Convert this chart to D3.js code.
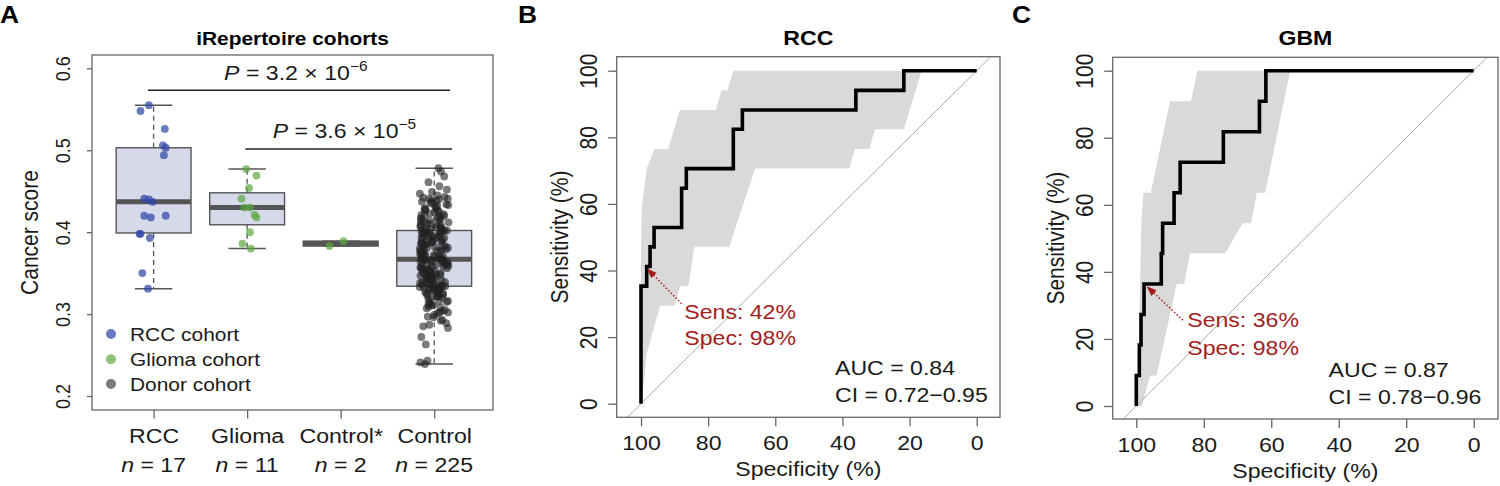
<!DOCTYPE html>
<html><head><meta charset="utf-8">
<script src="https://cdn.jsdelivr.net/npm/d3@7"></script>
<style>
body{margin:0;background:#fff}
svg{display:block}
text{font-family:"Liberation Sans",Arial,Helvetica,sans-serif}
</style>
</head><body>
<svg id="chart" width="1500" height="486"></svg>
<script>
// ================= DATA =================
const categories = ["RCC", "Glioma", "Control*", "Control"];
const groupN = [17, 11, 2, 225];
const legendLabels = ["RCC cohort", "Glioma cohort", "Donor cohort"];
const yTicksA = [0.2, 0.3, 0.4, 0.5, 0.6];

// box statistics (lower whisker, Q1, median, Q3, upper whisker)
const boxLow  = [0.331, 0.380, 0.383, 0.239];
const boxQ1   = [0.399, 0.409, 0.383, 0.334];
const boxMed  = [0.437, 0.430, 0.386, 0.367];
const boxQ3   = [0.503, 0.448, 0.389, 0.402];
const boxHigh = [0.555, 0.477, 0.389, 0.478];

const rccScores = [0.555, 0.548, 0.526, 0.506, 0.503, 0.494, 0.441, 0.440, 0.437,
  0.420, 0.418, 0.420, 0.398, 0.398, 0.393, 0.350, 0.331];
const gliomaScores = [0.477, 0.469, 0.454, 0.441, 0.430, 0.430, 0.421, 0.418, 0.400, 0.386, 0.380];
const controlStarScores = [0.383, 0.389];
const controlScores = [
  0.239, 0.241, 0.243, 0.263, 0.272, 0.283, 0.285, 0.287, 0.289, 0.292, 0.293, 0.296, 0.297, 0.299,
  0.301, 0.302, 0.302, 0.304, 0.305, 0.307, 0.308, 0.309, 0.311, 0.311,
  0.312, 0.314, 0.315, 0.316, 0.316, 0.318, 0.319, 0.320, 0.321, 0.322,
  0.322, 0.323, 0.324, 0.325, 0.325, 0.326, 0.327, 0.328, 0.328, 0.329,
  0.330, 0.330, 0.331, 0.331, 0.332, 0.332, 0.333, 0.333, 0.334, 0.334,
  0.334, 0.335,
  0.335, 0.336, 0.336, 0.337, 0.337, 0.338, 0.339, 0.339, 0.340, 0.341,
  0.341, 0.342, 0.342, 0.343, 0.344, 0.344, 0.345, 0.345, 0.346, 0.347,
  0.347, 0.348, 0.348, 0.349, 0.350, 0.350, 0.351, 0.352, 0.352, 0.353,
  0.354, 0.354, 0.355, 0.355, 0.356, 0.357, 0.357, 0.358, 0.358, 0.359,
  0.360, 0.360, 0.361, 0.361, 0.362, 0.363, 0.363, 0.364, 0.364, 0.365,
  0.365, 0.366, 0.366, 0.367, 0.367, 0.367,
  0.368, 0.368, 0.369, 0.370, 0.370, 0.371, 0.371, 0.372, 0.373, 0.373,
  0.374, 0.375, 0.375, 0.376, 0.377, 0.377, 0.378, 0.379, 0.379, 0.380,
  0.381, 0.381, 0.382, 0.383, 0.383, 0.384, 0.385, 0.385, 0.386, 0.387,
  0.387, 0.388, 0.389, 0.389, 0.390, 0.391, 0.391, 0.392, 0.393, 0.393,
  0.394, 0.395, 0.395, 0.396, 0.397, 0.397, 0.398, 0.399, 0.399, 0.400,
  0.400, 0.401, 0.401, 0.402, 0.402, 0.402,
  0.403, 0.404, 0.404, 0.405, 0.406, 0.406, 0.407, 0.408, 0.409, 0.409,
  0.410, 0.411, 0.412, 0.412, 0.413, 0.414, 0.415, 0.416, 0.416, 0.417,
  0.418, 0.419, 0.420, 0.421, 0.421, 0.422, 0.423, 0.424, 0.425, 0.426,
  0.427, 0.428, 0.429, 0.430, 0.431, 0.432, 0.433, 0.434, 0.435, 0.436,
  0.437, 0.438, 0.439, 0.440, 0.441, 0.441, 0.442, 0.443, 0.445, 0.447,
  0.449, 0.452, 0.456, 0.461, 0.468, 0.474, 0.478
];
const pMantissa = ["3.2", "3.6"];
const pExponent = ["\u22126", "\u22125"];

const rocTicks = [0, 20, 40, 60, 80, 100];

// RCC ROC curve (specificity %, sensitivity %)
const rccRocSpec = [100, 100, 98.3, 98.3, 97.3, 97.3, 96.1, 96.1, 87.9, 87.9, 86.5, 86.5,
  72.5, 72.5, 69.8, 69.8, 36, 36, 21.7, 21.7, 0];
const rccRocSens = [0, 35.3, 35.3, 41.2, 41.2, 47.1, 47.1, 52.9, 52.9, 64.7, 64.7, 70.6,
  70.6, 82.4, 82.4, 88.2, 88.2, 94.1, 94.1, 100, 100];
// RCC CI band of specificity
const rccBandHiSpec = [72.5, 74.2, 76.0, 77.7, 88.4, 91.9, 96.0, 98.3, 99.8, 100, 100];
const rccBandHiSens = [100, 94.1, 94.1, 88.2, 88.2, 76.5, 76.5, 70.6, 58.8, 47.1, 0];
const rccBandLoSpec = [16.4, 21.7, 30.3, 32.0, 36.3, 38.0, 66.0, 73.7, 84.1, 85.9, 88.4, 89.9, 94.3, 98.3, 99.8];
const rccBandLoSens = [100, 82.4, 82.4, 76.5, 76.5, 70.6, 70.6, 47.1, 47.1, 35.3, 35.3, 29.4, 29.4, 15.1, 0];

// GBM ROC curve
const gbmRocSpec = [100, 100, 99.1, 99.1, 98.6, 98.6, 97.7, 97.7, 92.6, 92.6, 92.2, 92.2,
  88.8, 88.8, 87.0, 87.0, 74.2, 74.2, 63.5, 63.5, 61.6, 61.6, 0];
const gbmRocSens = [0, 9.1, 9.1, 18.2, 18.2, 27.3, 27.3, 36.4, 36.4, 45.5, 45.5, 54.5,
  54.5, 63.6, 63.6, 72.7, 72.7, 81.8, 81.8, 90.9, 90.9, 100, 100];
const gbmBandHiSpec = [81.9, 83.8, 90.0, 95.7, 97.9, 98.5, 98.9, 99.4, 100];
const gbmBandHiSens = [100, 90.9, 90.9, 63.6, 63.6, 54.5, 36.4, 9.1, 0];
const gbmBandLoSpec = [54.4, 61.8, 64.3, 66.0, 68.5, 73.7, 84.1, 85.8, 88.0, 94.0, 95.9, 98.4];
const gbmBandLoSens = [100, 63.6, 63.6, 54.5, 54.5, 45.5, 45.5, 36.4, 36.4, 9.1, 9.1, 0];

const rccTexts = ["Sens: 42%", "Spec: 98%", "AUC = 0.84", "CI = 0.72\u22120.95"];
const gbmTexts = ["Sens: 36%", "Spec: 98%", "AUC = 0.87", "CI = 0.78\u22120.96"];

// ================= LAYOUT / STYLE =================
const SX = 1.1;               // horizontal text stretch of the original raster
const INK = "#1a1a1a";
const FRAME = "#666";
const RED = "#a31d1d";
const groupColor = ["#2f47a8", "#5aa640", "#5aa640", "#222"];
const groupAlpha = [0.72, 0.7, 0.7, 0.6];
const rccJitter = [-0.05, -0.14, 0.12, 0.10, 0.13, 0.11, -0.10, -0.05, -0.01, -0.10, -0.03, 0.13, -0.15, -0.14, -0.04, -0.12, -0.06];
const gliomaJitter = [-0.01, 0.10, 0.02, -0.06, -0.03, 0.03, 0.08, 0.10, 0.03, -0.05, 0.04];
const controlStarJitter = [-0.12, 0.03];
// deterministic hash-based horizontal jitter (layout only)
function hashJitter(i, width) {
  const h = Math.sin((i + 1) * 78.233) * 43758.5453;
  return (h - Math.floor(h) - 0.5) * width;
}

const svg = d3.select("#chart");
const defs = svg.append("defs");

function label(g, x, y, s, o = {}) {
  const t = g.append("text")
    .attr("transform", `translate(${x},${y}) scale(${SX},1)` + (o.rot ? " rotate(-90)" : ""))
    .attr("text-anchor", o.anchor || "start")
    .attr("font-size", o.size || 21)
    .attr("font-weight", o.bold ? "bold" : null)
    .attr("font-style", o.italic ? "italic" : null)
    .attr("fill", o.fill || INK);
  if (s != null) t.text(s);
  return t;
}

// ================= PANEL A =================
(function () {
  const g = svg.append("g");
  const box = {l: 92, r: 493, t: 55, b: 410};
  const x = d3.scaleLinear().domain([1, 4]).range([153.6, 434.2]);
  const y = d3.scaleLinear().domain([0.2, 0.6]).range([396, 68.3]);
  const unit = x(2) - x(1);

  label(g, 0, 23, "A", {size: 24, bold: true, fill: "#000"});
  label(g, (box.l + box.r) / 2, 45, "iRepertoire cohorts", {size: 19, bold: true, anchor: "middle", fill: "#000"});

  g.append("rect").attr("x", box.l).attr("y", box.t).attr("width", box.r - box.l).attr("height", box.b - box.t)
    .attr("fill", "none").attr("stroke", FRAME).attr("stroke-width", 1.3);

  // y axis
  const ay = g.append("g").attr("transform", `translate(${box.l},0)`)
    .call(d3.axisLeft(y).tickValues(yTicksA).tickFormat(d3.format(".1f")).tickSize(5));
  ay.select(".domain").remove();
  ay.selectAll(".tick line").attr("stroke", FRAME).attr("stroke-width", 1.3);
  ay.selectAll(".tick text").attr("x", null).attr("dy", null).attr("text-anchor", "middle")
    .attr("font-size", 18).attr("fill", INK)
    .attr("transform", `translate(-22,0) scale(${SX},1) rotate(-90)`);
  label(g, 38, (box.t + box.b) / 2, "Cancer score", {rot: true, anchor: "middle", size: 21});

  // x axis
  const ax = g.append("g").attr("transform", `translate(0,${box.b})`)
    .call(d3.axisBottom(x).tickValues([1, 2, 3, 4]).tickFormat(i => categories[i - 1]).tickSize(8.5));
  ax.select(".domain").remove();
  ax.selectAll(".tick line").attr("stroke", FRAME).attr("stroke-width", 1.3);
  ax.selectAll(".tick text").attr("y", null).attr("dy", null).attr("font-size", 21).attr("fill", INK)
    .attr("transform", `translate(0,33) scale(${SX},1)`);
  groupN.forEach((n, i) => {
    const t = label(g, x(i + 1), box.b + 62, null, {anchor: "middle", size: 21});
    t.append("tspan").attr("font-style", "italic").text("n");
    t.append("tspan").text(" = " + n);
  });

  // boxes
  categories.forEach((c, i) => {
    const cx = x(i + 1), hw = 0.4 * unit, cw = 0.2 * unit;
    const bg = g.append("g");
    bg.append("line").attr("x1", cx).attr("x2", cx).attr("y1", y(boxQ3[i])).attr("y2", y(boxHigh[i]))
      .attr("stroke", "#555").attr("stroke-width", 1.3).attr("stroke-dasharray", "5,4");
    bg.append("line").attr("x1", cx).attr("x2", cx).attr("y1", y(boxQ1[i])).attr("y2", y(boxLow[i]))
      .attr("stroke", "#555").attr("stroke-width", 1.3).attr("stroke-dasharray", "5,4");
    [boxHigh[i], boxLow[i]].forEach(v => bg.append("line").attr("x1", cx - cw).attr("x2", cx + cw)
      .attr("y1", y(v)).attr("y2", y(v)).attr("stroke", "#555").attr("stroke-width", 1.5));
    bg.append("rect").attr("x", cx - hw).attr("width", 2 * hw)
      .attr("y", y(boxQ3[i])).attr("height", y(boxQ1[i]) - y(boxQ3[i]))
      .attr("fill", "#d6d9ea").attr("stroke", "#555").attr("stroke-width", 1.4);
    bg.append("line").attr("x1", cx - hw).attr("x2", cx + hw).attr("y1", y(boxMed[i])).attr("y2", y(boxMed[i]))
      .attr("stroke", "#555").attr("stroke-width", 5);
  });

  // points
  const controlJitter = controlScores.map((d, i) => hashJitter(i, 0.31));
  const groups = [[rccScores, rccJitter], [gliomaScores, gliomaJitter], [controlStarScores, controlStarJitter], [controlScores, controlJitter]];
  groups.forEach(([vals, jit], i) => {
    g.append("g").selectAll("circle").data(vals).join("circle")
      .attr("cx", (d, k) => x(i + 1 + jit[k])).attr("cy", d => y(d)).attr("r", 3.9)
      .attr("fill", groupColor[i]).attr("fill-opacity", groupAlpha[i]);
  });

  // p-value brackets
  const brackets = [{x1: 0.94, x2: 4.17, ly: 0.5732, tx: 2.52, ty: 0.5857},
                    {x1: 1.98, x2: 4.19, ly: 0.5016, tx: 3.04, ty: 0.5146}];
  brackets.forEach((b, i) => {
    g.append("line").attr("x1", x(b.x1)).attr("x2", x(b.x2)).attr("y1", y(b.ly)).attr("y2", y(b.ly))
      .attr("stroke", "#222").attr("stroke-width", 1.5);
    const t = label(g, x(b.tx), y(b.ty), null, {anchor: "middle", size: 21});
    t.append("tspan").attr("font-style", "italic").text("P");
    t.append("tspan").text(" = " + pMantissa[i] + " \u00d7 10");
    t.append("tspan").attr("font-size", 14).attr("dy", -9).text(pExponent[i]);
  });

  // legend
  const legY = [334, 359.3, 384];
  const legIdx = [0, 1, 3];
  legendLabels.forEach((s, k) => {
    g.append("circle").attr("cx", 111).attr("cy", legY[k]).attr("r", 5)
      .attr("fill", groupColor[legIdx[k]]).attr("fill-opacity", groupAlpha[legIdx[k]]);
    label(g, 130, legY[k] + 7, s, {size: 19});
  });
})();

// ================= ROC PANELS =================
function rocPanel(c) {
  const g = svg.append("g");
  const box = c.box;
  const x = d3.scaleLinear().domain([100, 0]).range(c.xr);
  const y = d3.scaleLinear().domain([0, 100]).range(c.yr);
  const cid = "clip" + c.letter;
  defs.append("clipPath").attr("id", cid).append("rect")
    .attr("x", box.l).attr("y", box.t).attr("width", box.r - box.l).attr("height", box.b - box.t);

  label(g, c.letterX, 23, c.letter, {size: 24, bold: true, fill: "#000"});
  label(g, (box.l + box.r) / 2, 45, c.title, {size: 21, bold: true, anchor: "middle", fill: "#000"});

  const pg = g.append("g").attr("clip-path", `url(#${cid})`);
  // CI band
  const hi = c.hiSpec.map((s, i) => [s, c.hiSens[i]]);
  const lo = c.loSpec.map((s, i) => [s, c.loSens[i]]);
  const poly = hi.concat(lo.slice().reverse());
  pg.append("path").attr("d", d3.line().x(d => x(d[0])).y(d => y(d[1]))(poly) + "Z")
    .attr("fill", "#d9d9d9").attr("stroke", "none");
  // diagonal
  pg.append("line").attr("x1", x(110)).attr("y1", y(-10)).attr("x2", x(-10)).attr("y2", y(110))
    .attr("stroke", "#aaa").attr("stroke-width", 1);
  // ROC curve
  const pts = c.rocSpec.map((s, i) => [s, c.rocSens[i]]);
  pg.append("path").attr("d", d3.line().x(d => x(d[0])).y(d => y(d[1]))(pts))
    .attr("fill", "none").attr("stroke", "#000").attr("stroke-width", 3.6)
    .attr("stroke-linejoin", "miter").attr("stroke-linecap", "butt");

  // frame
  g.append("rect").attr("x", box.l).attr("y", box.t).attr("width", box.r - box.l).attr("height", box.b - box.t)
    .attr("fill", "none").attr("stroke", FRAME).attr("stroke-width", 1.3);

  // axes
  const ay = g.append("g").attr("transform", `translate(${box.l},0)`)
    .call(d3.axisLeft(y).tickValues(rocTicks).tickFormat(d3.format("d")).tickSize(8.5));
  ay.select(".domain").remove();
  ay.selectAll(".tick line").attr("stroke", FRAME).attr("stroke-width", 1.3);
  ay.selectAll(".tick text").attr("x", null).attr("dy", null).attr("text-anchor", "middle")
    .attr("font-size", 21).attr("fill", INK)
    .attr("transform", `translate(-20,0) scale(${SX},1) rotate(-90)`);
  label(g, box.l - 49, (box.t + box.b) / 2, "Sensitivity (%)", {rot: true, anchor: "middle", size: 21});

  const ax = g.append("g").attr("transform", `translate(0,${box.b})`)
    .call(d3.axisBottom(x).tickValues(rocTicks).tickFormat(d3.format("d")).tickSize(9));
  ax.select(".domain").remove();
  ax.selectAll(".tick line").attr("stroke", FRAME).attr("stroke-width", 1.3);
  ax.selectAll(".tick text").attr("y", null).attr("dy", null).attr("font-size", 21).attr("fill", INK)
    .attr("transform", `translate(0,33) scale(${SX},1)`);
  label(g, (box.l + box.r) / 2, box.b + 59, "Specificity (%)", {anchor: "middle", size: 21});

  // annotation arrow
  const a = c.annot;
  g.append("line").attr("x1", x(a.tail[0])).attr("y1", y(a.tail[1]))
    .attr("x2", x(a.tip[0])).attr("y2", y(a.tip[1]))
    .attr("stroke", RED).attr("stroke-width", 1.5).attr("stroke-dasharray", "1.5,2")
    .attr("marker-end", "url(#arrowRed)");
  label(g, x(a.text[0]), y(a.text[1]), c.texts[0], {size: 21, fill: RED});
  label(g, x(a.text[0]), y(a.text[1]) + a.lh, c.texts[1], {size: 21, fill: RED});

  label(g, x(c.aucX), y(8.5), c.texts[2], {size: 21});
  label(g, x(c.aucX), y(0.5), c.texts[3], {size: 21});
}

defs.append("marker").attr("id", "arrowRed").attr("viewBox", "0 0 10 10")
  .attr("refX", 9).attr("refY", 5).attr("markerWidth", 10).attr("markerHeight", 10)
  .attr("markerUnits", "userSpaceOnUse").attr("orient", "auto")
  .append("path").attr("d", "M0,1.2 L10,5 L0,8.8 Z").attr("fill", RED);

rocPanel({
  letter: "B", letterX: 518, title: "RCC",
  box: {l: 616.7, r: 1000, t: 56.7, b: 417.3},
  xr: [641, 976.7], yr: [403.7, 70.7],
  rocSpec: rccRocSpec, rocSens: rccRocSens,
  hiSpec: rccBandHiSpec, hiSens: rccBandHiSens, loSpec: rccBandLoSpec, loSens: rccBandLoSens,
  annot: {tip: [98.0, 40.4], tail: [87.9, 30.0], text: [87.1, 25.3], lh: 25.7},
  aucX: 42.2, texts: rccTexts
});
rocPanel({
  letter: "C", letterX: 1012, title: "GBM",
  box: {l: 1112.7, r: 1498, t: 57.3, b: 419},
  xr: [1136.3, 1473.7], yr: [406, 70.7],
  rocSpec: gbmRocSpec, rocSens: gbmRocSens,
  hiSpec: gbmBandHiSpec, hiSens: gbmBandHiSens, loSpec: gbmBandLoSpec, loSens: gbmBandLoSens,
  annot: {tip: [96.7, 35.5], tail: [86.2, 25.6], text: [84.9, 23.5], lh: 27.7},
  aucX: 43.0, texts: gbmTexts
});
</script>
</body></html>
